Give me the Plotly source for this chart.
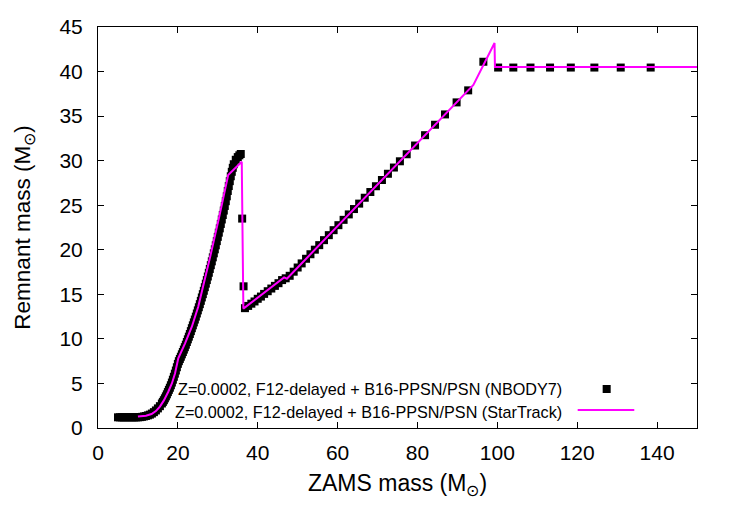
import plotly.graph_objects as go

# NBODY7 remnant masses (black squares)
nbody_x = [5.0, 5.5, 6.0, 6.5, 7.0, 7.5, 8.0, 8.5, 9.0, 9.5, 10.0, 10.5, 11.0, 11.5, 12.0, 12.5,
           13.0, 13.5, 14.0, 14.5, 15.0, 15.5,
           16.0, 16.25, 16.5, 16.75, 17.0, 17.25, 17.5, 17.75, 18.0, 18.25, 18.5, 18.75,
           19.0, 19.25, 19.5, 19.75, 20.0, 20.25, 20.5, 20.75, 21.0, 21.25, 21.5, 21.75,
           22.0, 22.25, 22.5, 22.75, 23.0, 23.25, 23.5, 23.75, 24.0, 24.25, 24.5, 24.75,
           25.0, 25.25, 25.5, 25.75, 26.0, 26.25, 26.5, 26.75, 27.0, 27.25, 27.5, 27.75,
           28.0, 28.25, 28.5, 28.75, 29.0, 29.25, 29.5, 29.75, 30.0, 30.25, 30.5, 30.75,
           31.0, 31.25, 31.5, 31.75, 32.0, 32.25, 32.5, 32.75, 33.0, 33.25, 33.5, 33.75,
           34.0, 34.5, 35.0, 35.4, 35.75,
           36.1, 36.45,
           36.8, 37.6, 38.4, 39.2, 40.0, 40.8, 41.6, 42.5, 43.4, 44.3, 45.2, 46.1, 47.0,
           48.0, 49.0, 50.0, 51.0, 52.1, 53.2, 54.3, 55.4, 56.6, 57.8, 59.0, 60.2, 61.5,
           62.8, 64.1, 65.4, 66.8, 68.2, 69.6, 71.1, 72.6, 74.1, 75.6, 77.3, 79.4, 81.9,
           84.4, 86.9, 89.8, 92.7, 96.5,
           100.2, 104.0, 108.3, 113.2, 118.4, 124.3, 130.9, 138.4]
nbody_y = [1.2, 1.2, 1.2, 1.2, 1.2, 1.2, 1.2, 1.2, 1.2, 1.2, 1.2, 1.22, 1.25, 1.3, 1.35, 1.42,
           1.5, 1.62, 1.78, 1.97, 2.2, 2.45,
           2.75, 2.93, 3.12, 3.33, 3.55, 3.78, 4.03, 4.28, 4.52, 4.8, 5.1, 5.42,
           5.75, 6.1, 6.45, 6.82, 7.2, 7.5, 7.75, 8.0, 8.27, 8.53, 8.8, 9.07,
           9.35, 9.65, 9.95, 10.25, 10.55, 10.87, 11.2, 11.52, 11.85, 12.17, 12.5, 12.85,
           13.2, 13.55, 13.9, 14.27, 14.65, 15.02, 15.4, 15.8, 16.2, 16.6, 17.0, 17.42,
           17.85, 18.27, 18.7, 19.15, 19.6, 20.05, 20.5, 20.97, 21.45, 21.92, 22.4, 22.9,
           23.4, 23.9, 24.4, 24.92, 25.45, 26.0, 26.6, 27.15, 27.7, 28.25, 28.75, 29.2,
           29.6, 30.1, 30.4, 30.6, 30.75,
           23.5, 15.9,
           13.45, 13.7, 13.95, 14.2, 14.5, 14.75, 15.05, 15.35, 15.65, 15.95, 16.25, 16.6, 16.8,
           17.08, 17.54, 18.01, 18.47, 18.99, 19.5, 20.01, 20.52, 21.08, 21.64, 22.2, 22.76, 23.36,
           23.97, 24.57, 25.18, 25.84, 26.48, 27.13, 27.83, 28.53, 29.23, 29.93, 30.72, 31.7, 32.86,
           34.03, 35.19, 36.54, 37.89, 41.1,
           40.45, 40.45, 40.45, 40.45, 40.45, 40.45, 40.45, 40.45]

# StarTrack remnant masses (magenta line)
st_x = [10.0, 12.0, 13.4, 14.5, 15.5, 16.5, 17.6, 18.5, 19.3, 20.1, 21.8, 23.5, 25.1, 26.5,
        28.0, 30.3, 32.6, 36.0, 36.4, 46.6, 47.3, 94.0, 99.3, 99.4, 150.0]
st_y = [1.3, 1.38, 1.57, 1.9, 2.4, 3.1, 4.07, 5.0, 6.14, 7.82, 9.5, 11.37, 13.61, 16.1,
        19.04, 23.6, 28.39, 29.88, 13.4, 16.9, 16.75, 38.5, 43.2, 40.5, 40.5]

x_ticks = [0, 20, 40, 60, 80, 100, 120, 140]
y_ticks = [0, 5, 10, 15, 20, 25, 30, 35, 40, 45]

label_nbody = "Z=0.0002, F12-delayed + B16-PPSN/PSN (NBODY7)"
label_st = "Z=0.0002, F12-delayed + B16-PPSN/PSN (StarTrack)"

FONT = "Liberation Sans, Arial, sans-serif"

fig = go.Figure()
fig.add_trace(go.Scatter(x=nbody_x, y=nbody_y, mode="markers", name=label_nbody,
                         marker=dict(symbol="square", size=8, color="black", line=dict(width=0)),
                         showlegend=False))
fig.add_trace(go.Scatter(x=st_x, y=st_y, mode="lines", name=label_st,
                         line=dict(color="#ff00ff", width=2), showlegend=False))

axis_common = dict(showgrid=False, zeroline=False, showline=True, linecolor="black", linewidth=1,
                   mirror="ticks", ticks="inside", ticklen=6, tickcolor="black", tickwidth=1,
                   tickfont=dict(family=FONT, size=21, color="black"))

fig.update_xaxes(range=[0, 150], tickvals=x_ticks, ticktext=[str(v) for v in x_ticks],
                 title=dict(text="ZAMS mass (M<sub>⊙</sub>)", font=dict(family=FONT, size=23, color="black"),
                            standoff=11),
                 ticklabelstandoff=6, **axis_common)
fig.update_yaxes(range=[0, 45], tickvals=y_ticks, ticktext=[str(v) for v in y_ticks],
                 title=dict(text="Remnant mass (M<sub>⊙</sub>)", font=dict(family=FONT, size=22.5, color="black"),
                            standoff=22),
                 ticklabelstandoff=10, **axis_common)

# legend (gnuplot style: text right-aligned, key sample to the right)
ann_font = dict(family=FONT, size=16.2, color="black")
fig.add_annotation(x=0.778, y=0.0973, xref="paper", yref="paper", text=label_nbody,
                   showarrow=False, xanchor="right", yanchor="middle", font=ann_font)
fig.add_annotation(x=0.778, y=0.0406, xref="paper", yref="paper", text=label_st,
                   showarrow=False, xanchor="right", yanchor="middle", font=ann_font)
fig.add_shape(type="rect", xref="paper", yref="paper", x0=0.8425, x1=0.8559,
              y0=0.0873, y1=0.1073, fillcolor="black", line=dict(width=0))
fig.add_shape(type="line", xref="paper", yref="paper", x0=0.8008, x1=0.8953,
              y0=0.0449, y1=0.0449, line=dict(color="#ff00ff", width=2))

fig.update_layout(width=750, height=525, margin=dict(l=98, r=53, t=27, b=97),
                  paper_bgcolor="white", plot_bgcolor="white",
                  font=dict(family=FONT, color="black"))

fig.write_html("out.html")
